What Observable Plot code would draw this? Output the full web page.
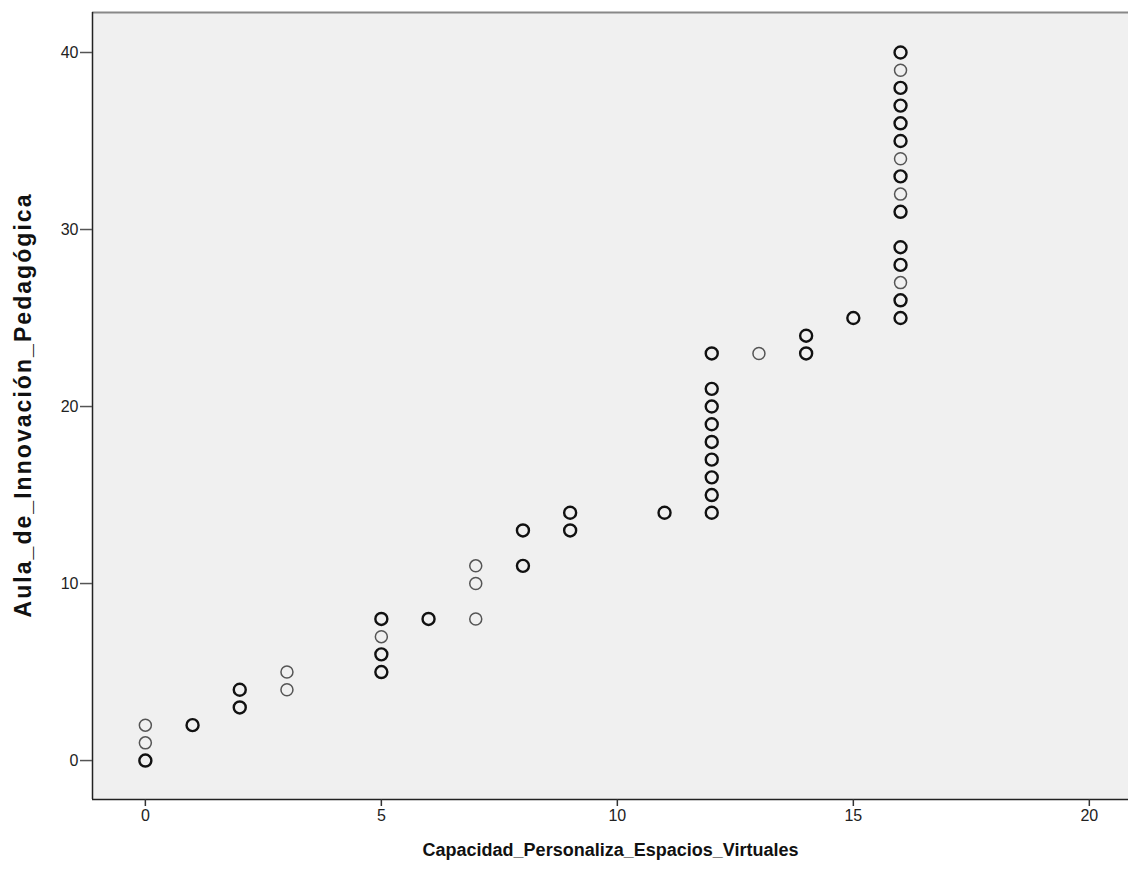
<!DOCTYPE html>
<html>
<head>
<meta charset="utf-8">
<script src="https://cdn.jsdelivr.net/npm/d3@7"></script>
<script src="https://cdn.jsdelivr.net/npm/@observablehq/plot@0.6"></script>
<style>
  html, body { margin: 0; padding: 0; background: #fff; }
  #chart svg { display: block; font-family: "Liberation Sans", Arial, sans-serif; }
</style>
</head>
<body>
<div id="chart"></div>
<script>
// x values, y values, and whether the point is overplotted (bold, 1) or single (0)
const xValues = [0,0,0, 1, 2,2, 3,3, 5,5,5,5, 6, 7,7,7, 8,8, 9,9, 11,
  12,12,12,12,12,12,12,12,12, 13, 14,14, 15,
  16,16,16,16,16,16,16,16,16,16,16,16,16,16,16];
const yValues = [0,1,2, 2, 3,4, 4,5, 5,6,7,8, 8, 8,10,11, 11,13, 13,14, 14,
  14,15,16,17,18,19,20,21,23, 23, 23,24, 25,
  25,26,27,28,29,31,32,33,34,35,36,37,38,39,40];
const boldFlags = [1,0,0, 1, 1,1, 0,0, 1,1,0,1, 1, 0,0,0, 1,1, 1,1, 1,
  1,1,1,1,1,1,1,1,1, 0, 1,1, 1,
  1,1,0,1,1,1,0,1,0,1,1,1,1,0,1];
const xTicks = [0, 5, 10, 15, 20];
const yTicks = [0, 10, 20, 30, 40];
const xDomain = [-1.12, 20.83];
const yDomain = [-2.2, 42.26];
const xLabel = "Capacidad_Personaliza_Espacios_Virtuales";
const yLabel = "Aula_de_Innovación_Pedagógica";

const data = xValues.map((x, i) => ({x, y: yValues[i], bold: boldFlags[i]}));

const chart = Plot.plot({
  width: 1128,
  height: 882,
  marginLeft: 92,
  marginRight: 0,
  marginTop: 12,
  marginBottom: 83,
  style: {fontFamily: "'Liberation Sans', Arial, sans-serif", background: "#fff"},
  x: {domain: xDomain},
  y: {domain: yDomain},
  marks: [
    Plot.frame({fill: "#f0f0f0", stroke: null}),
    Plot.ruleY([yDomain[1]], {stroke: "#888", strokeWidth: 2}),
    Plot.ruleX([xDomain[0]], {stroke: "#222", strokeWidth: 1.5}),
    Plot.ruleY([yDomain[0]], {stroke: "#222", strokeWidth: 1.5}),
    Plot.axisX(xTicks, {tickSize: 7, tickPadding: 3, fontSize: 16, color: "#222", stroke: "#333", strokeWidth: 1.5, label: null}),
    Plot.axisY(yTicks, {tickSize: 12, tickPadding: 2, fontSize: 16, color: "#222", stroke: "#555", strokeWidth: 1.5, label: null}),
    Plot.text([xLabel], {frameAnchor: "bottom", dy: 56, fontSize: 18, fontWeight: "bold", fill: "#111"}),
    Plot.text([yLabel], {frameAnchor: "left", textAnchor: "middle", dx: -69, rotate: -90, fontSize: 23, fontWeight: "bold", fill: "#111", className: "ylabel"}),
    Plot.dot(data, {
      x: "x", y: "y", r: 6,
      stroke: d => d.bold ? "#111" : "#555",
      strokeWidth: d => d.bold ? 2.4 : 1.5,
      fill: "none"
    })
  ]
});
document.getElementById("chart").appendChild(chart);
chart.querySelectorAll(".ylabel text").forEach(t => {
  t.setAttribute("textLength", "423");
  t.setAttribute("lengthAdjust", "spacing");
});
</script>
</body>
</html>
